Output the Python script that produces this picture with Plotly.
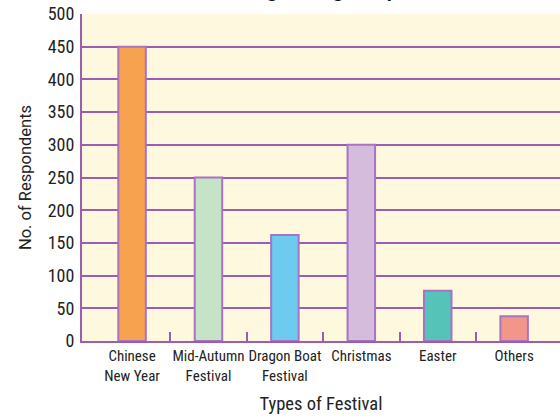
import plotly.graph_objects as go

categories = ["Chinese<br>New Year", "Mid-Autumn<br>Festival", "Dragon Boat<br>Festival",
              "Christmas", "Easter", "Others"]
respondents = [450, 250, 162, 300, 77, 38]
bar_colors = ["#f7a24f", "#c6e3c8", "#6ccbee", "#d6bcdc", "#56c3b9", "#f3968a"]
y_ticks = [0, 50, 100, 150, 200, 250, 300, 350, 400, 450, 500]
boundary_ticks = [0.5, 1.5, 2.5, 3.5, 4.5]
title_text = "Favourite Festivals among Young Respondents"

PURPLE = "#9a5cb4"
FONT = "Liberation Sans Narrow, Roboto Condensed, Arial Narrow, DejaVu Sans Condensed, sans-serif"
x_range = [-0.655, 5.6]

fig = go.Figure()
fig.add_trace(go.Bar(
    x=categories, y=respondents,
    marker=dict(color=bar_colors, line=dict(color="#a874c2", width=2)),
    width=0.36,
    hoverinfo="x+y",
))
fig.add_trace(go.Scatter(x=[], y=[], xaxis="x2", yaxis="y", showlegend=False))

fig.update_layout(
    width=560, height=419,
    margin=dict(l=82, r=0, t=14, b=78),
    paper_bgcolor="white",
    plot_bgcolor="#fdf8de",
    showlegend=False,
    font=dict(family=FONT, size=15, color="#222222"),
    xaxis=dict(
        type="category",
        range=x_range,
        automargin=False,
        showgrid=False,
        showline=True, linecolor=PURPLE, linewidth=2,
        ticks="", tickangle=0,
        tickfont=dict(size=15),
        title=dict(text="Types of Festival", font=dict(size=18.5), standoff=14),
        zeroline=False,
    ),
    xaxis2=dict(
        overlaying="x",
        anchor="y",
        range=x_range,
        automargin=False,
        tickvals=boundary_ticks,
        ticks="inside", ticklen=9, tickwidth=2, tickcolor=PURPLE,
        showticklabels=False,
        showgrid=False, zeroline=False, showline=False,
    ),
    yaxis=dict(
        range=[0, 500],
        automargin=False,
        tickvals=y_ticks,
        showgrid=True, gridcolor=PURPLE, gridwidth=2,
        showline=True, linecolor=PURPLE, linewidth=2,
        zeroline=False,
        ticks="", ticklabelstandoff=2,
        tickfont=dict(size=18),
        title=dict(text="No. of Respondents", font=dict(size=16.5, family="Roboto, " + FONT), standoff=12),
    ),
    annotations=[dict(
        text="<b>" + title_text + "</b>",
        xref="paper", yref="paper", x=-0.121, y=1, xanchor="left", yanchor="bottom",
        yshift=11, showarrow=False, font=dict(size=20, family="Liberation Sans, Arial, sans-serif", color="#111111"),
    )],
)

fig.write_html("out.html", config={"displayModeBar": False},
               post_script="document.body.style.margin='0';document.body.style.overflow='hidden';")
